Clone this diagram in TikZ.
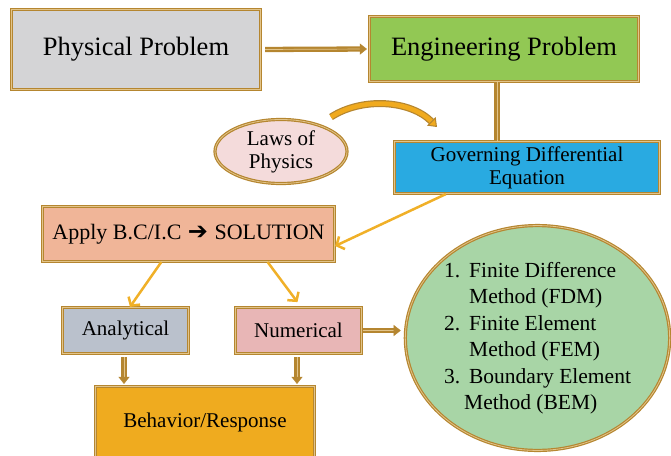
\documentclass[tikz,border=0pt]{standalone}
\usepackage{fontspec}
\setmainfont{Liberation Serif}
\newfontfamily\symfont{DejaVu Sans}
\usetikzlibrary{arrows.meta,calc,shapes.geometric}

\definecolor{brn}{RGB}{181,134,48}
\definecolor{brnlt}{RGB}{226,196,138}
\definecolor{grayF}{RGB}{212,212,214}
\definecolor{greenF}{RGB}{146,200,84}
\definecolor{blueF}{RGB}{41,170,225}
\definecolor{pinkF}{RGB}{244,219,219}
\definecolor{salmonF}{RGB}{240,181,152}
\definecolor{slateF}{RGB}{186,193,204}
\definecolor{roseF}{RGB}{232,182,182}
\definecolor{mintF}{RGB}{168,213,166}
\definecolor{amberF}{RGB}{239,171,31}
\definecolor{orA}{RGB}{240,176,40}
\definecolor{orC}{RGB}{240,170,30}

\begin{document}
\begin{tikzpicture}[x=1pt,y=-1pt,
  box/.style={rectangle, draw=brn, double=brnlt, double distance=0.8pt,
    line width=1.2pt, inner sep=0pt, align=center, text=black},
  oval/.style={ellipse, draw=brn, double=brnlt, double distance=0.8pt,
    line width=1.2pt, inner sep=0pt, align=center, text=black},
  bigtxt/.style={font=\fontsize{26.5}{30}\selectfont},
  midtxt/.style={font=\fontsize{21}{23}\selectfont},
  brnarrow/.style={draw=brn, double=brnlt, double distance=0.7pt, line width=2.3pt,
    -{Triangle[length=7pt, width=11pt, line width=0.4pt, fill=brn]}},
  brnbar/.style={draw=brn, double=brnlt, double distance=0.8pt, line width=2.5pt},
  orarrow/.style={draw=orA, line width=2.5pt,
    -{Straight Barb[length=6pt, width=14pt]}}
]
\useasboundingbox (0,0) rectangle (671,455);

% boxes
\node[box, fill=grayF, bigtxt, minimum width=249, minimum height=80] (phys) at (136,49.5) {Physical Problem};
\node[box, fill=greenF, bigtxt, minimum width=269, minimum height=65] (eng) at (504,49) {Engineering Problem};
\node[box, fill=blueF, midtxt, minimum width=265, minimum height=52] (gde) at (527,167.5) {Governing Differential\\Equation};
\node[oval, fill=pinkF, midtxt, minimum width=132, minimum height=64] (laws) at (281,151.5) {Laws of\\Physics};
\node[box, fill=salmonF, font=\fontsize{22}{24}\selectfont, minimum width=292, minimum height=55] (apply) at (188.5,234)
  {Apply B.C/I.C\hspace{1pt} {\symfont\bfseries\fontsize{24}{24}\selectfont ➔}\hspace{1pt} SOLUTION};
\node[box, fill=slateF, midtxt, minimum width=126, minimum height=46] (ana) at (125.5,330.5) {Analytical};
\node[box, fill=roseF, midtxt, minimum width=126, minimum height=46] (num) at (298.5,330.5) {Numerical};
\node[box, fill=amberF, midtxt, minimum width=219, minimum height=72] (beh) at (205,422.5) {Behavior/Response};
\node[oval, fill=mintF, minimum width=262, minimum height=219,
  font=\fontsize{21.5}{26.5}\selectfont] (meth) at (537.5,338)
  {\begin{tabular}{@{}r@{\hspace{9pt}}l@{}}
   1. & Finite Difference\\
      & Method (FDM)\\
   2. & Finite Element\\
      & Method (FEM)\\
   3. & Boundary Element\\
      & \hspace*{-5pt}Method (BEM)
   \end{tabular}};

% connectors
\draw[brnarrow, shorten <=4pt, shorten >=2pt] (phys.east) -- (eng.west);
\draw[brnbar] ([xshift=-7pt]eng.south) -- ([xshift=-7pt]eng.south |- gde.north);

\coordinate (ca) at (331,117);
\coordinate (cb) at (437,127);
\draw[draw=brn, double=orC, double distance=4.6pt, line width=1.2pt,
  -{Triangle[length=8pt, width=12pt, line width=1pt, fill=orC]}]
  (ca) .. controls (362,97) and (410,100) .. (cb);

\draw[orarrow] ($(gde.south west)!0.195!(gde.south east)$) -- ([yshift=-12pt]apply.east);
\draw[orarrow] ($(apply.south west)!0.407!(apply.south east)$) -- ($(ana.north west)!0.535!(ana.north east)$);
\draw[orarrow, shorten >=6pt] ($(apply.south west)!0.77!(apply.south east)$) -- ($(num.north west)!0.52!(num.north east)$);

\draw[brnarrow, shorten <=3pt, shorten >=2pt] ([xshift=-1.5pt]ana.south) -- ([xshift=-1.5pt]ana.south |- beh.north);
\draw[brnarrow, shorten <=3pt, shorten >=2pt] ([xshift=-1.5pt]num.south) -- ([xshift=-1.5pt]num.south |- beh.north);
\draw[brnarrow, shorten <=1pt, shorten >=4pt] (num.east) -- (num.east -| meth.west);
\end{tikzpicture}
\end{document}
